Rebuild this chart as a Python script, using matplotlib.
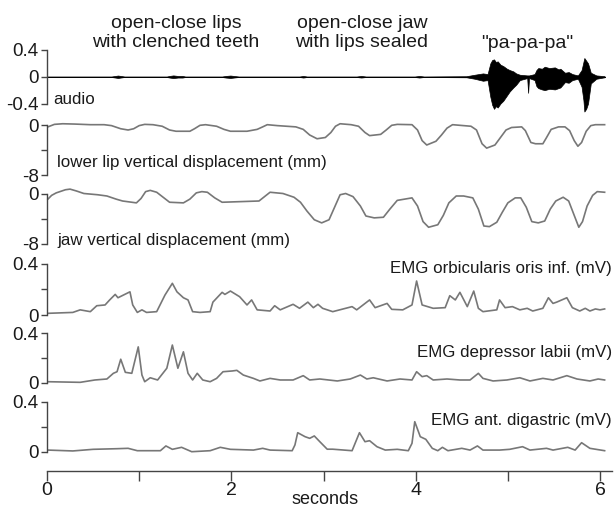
import matplotlib
matplotlib.use("Agg")
import matplotlib.pyplot as plt

plt.rcParams['font.family'] = ['Liberation Sans', 'DejaVu Sans']

# ---------------- data ----------------
# audio envelope (upper / lower)
audio_t  = [0.00, 0.70, 0.74, 0.77, 0.80, 0.84, 1.30, 1.33, 1.37, 1.42, 1.47, 1.50,
            1.90, 1.94, 1.99, 2.04, 2.08, 2.74, 2.78, 2.82, 3.36, 3.41, 3.46,
            3.99, 4.04, 4.09, 4.55, 4.64, 4.73, 4.78, 4.81, 4.83, 4.85, 4.87, 4.89, 4.92,
            4.95, 4.99, 5.02, 5.06, 5.09, 5.13, 5.21, 5.22, 5.23, 5.29, 5.31, 5.33, 5.37,
            5.40, 5.45, 5.51, 5.55, 5.57, 5.62, 5.66, 5.70, 5.76, 5.80, 5.82, 5.83, 5.85,
            5.87, 5.90, 5.96, 6.05]
audio_hi = [0.004, 0.004, 0.012, 0.018, 0.012, 0.004, 0.004, 0.012, 0.02, 0.012, 0.012, 0.004,
            0.004, 0.012, 0.018, 0.01, 0.004, 0.004, 0.012, 0.004, 0.004, 0.012, 0.004,
            0.004, 0.012, 0.004, 0.008, 0.03, 0.05, 0.04, 0.20, 0.25, 0.26, 0.22, 0.23, 0.18,
            0.16, 0.12, 0.10, 0.08, 0.05, 0.03, 0.02, 0.02, 0.02, 0.04, 0.10, 0.13, 0.12,
            0.15, 0.13, 0.14, 0.11, 0.12, 0.06, 0.07, 0.04, 0.02, 0.10, 0.22, 0.28, 0.24,
            0.20, 0.06, 0.02, 0.008]
audio_lo = [-0.004, -0.004, -0.012, -0.018, -0.012, -0.004, -0.004, -0.012, -0.02, -0.012, -0.012, -0.004,
            -0.004, -0.012, -0.018, -0.01, -0.004, -0.004, -0.012, -0.004, -0.004, -0.012, -0.004,
            -0.004, -0.012, -0.004, -0.008, -0.03, -0.06, -0.05, -0.30, -0.42, -0.48, -0.44, -0.46, -0.40,
            -0.36, -0.28, -0.22, -0.16, -0.12, -0.05, -0.02, -0.24, -0.02, -0.05, -0.14, -0.17, -0.19,
            -0.20, -0.18, -0.19, -0.17, -0.16, -0.08, -0.09, -0.05, -0.03, -0.15, -0.35, -0.52, -0.48,
            -0.40, -0.10, -0.03, -0.008]

# lower lip vertical displacement (mm)
lip_t = [0.01, 0.08, 0.17, 0.30, 0.47, 0.62, 0.70, 0.80, 0.88, 0.94, 1.00, 1.06, 1.15,
         1.25, 1.33, 1.40, 1.55, 1.60, 1.66, 1.72, 1.84, 1.92, 1.99, 2.17, 2.28, 2.34,
         2.39, 2.50, 2.70, 2.78, 2.85, 2.93, 3.02, 3.08, 3.13, 3.18, 3.30, 3.38, 3.45,
         3.50, 3.62, 3.68, 3.74, 3.80, 3.96, 4.02, 4.07, 4.12, 4.22, 4.28, 4.34, 4.40,
         4.60, 4.66, 4.72, 4.77, 4.86, 4.93, 4.98, 5.04, 5.15, 5.19, 5.25, 5.30, 5.38,
         5.42, 5.47, 5.55, 5.62, 5.67, 5.72, 5.76, 5.80, 5.85, 5.90, 5.95, 6.05]
lip_v = [-0.3, 0.1, 0.2, 0.15, 0.05, 0.05, -0.1, -0.6, -0.8, -0.6, -0.1, 0.1, 0.05,
         -0.2, -0.8, -1.0, -1.0, -0.6, -0.05, 0.05, -0.2, -0.7, -1.0, -1.0, -0.7, -0.3,
         0.05, -0.1, -0.3, -0.7, -1.6, -2.2, -2.0, -1.2, -0.2, 0.2, 0.05, -0.2, -1.2,
         -1.7, -1.5, -0.8, -0.05, 0.1, 0.05, -0.8, -2.5, -3.2, -2.6, -1.6, -0.5, 0.05,
         -0.2, -0.8, -3.0, -3.7, -3.2, -1.8, -0.8, -0.4, -0.3, -0.9, -2.8, -3.0, -3.0,
         -2.0, -0.7, -0.3, -0.3, -0.9, -2.5, -3.4, -2.8, -1.0, -0.1, 0.05, 0.05]

# jaw vertical displacement (mm)
jaw_t = [0.01, 0.05, 0.10, 0.20, 0.25, 0.32, 0.40, 0.55, 0.65, 0.75, 0.82, 0.97, 1.02,
         1.07, 1.12, 1.19, 1.26, 1.33, 1.48, 1.55, 1.62, 1.68, 1.74, 1.82, 1.90, 2.30,
         2.36, 2.42, 2.56, 2.68, 2.75, 2.82, 2.90, 2.98, 3.06, 3.12, 3.18, 3.24, 3.32,
         3.40, 3.46, 3.55, 3.65, 3.72, 3.80, 3.96, 4.02, 4.08, 4.14, 4.24, 4.30, 4.36,
         4.44, 4.52, 4.62, 4.68, 4.74, 4.80, 4.88, 4.94, 5.00, 5.08, 5.14, 5.20, 5.26,
         5.33, 5.40, 5.46, 5.52, 5.60, 5.66, 5.72, 5.77, 5.81, 5.86, 5.92, 5.97, 6.05]
jaw_v = [-0.9, -0.3, 0.1, 0.6, 0.7, 0.4, 0.0, -0.2, -0.4, -0.9, -1.2, -1.5, -0.8,
         0.3, 0.5, 0.2, -0.6, -1.4, -1.5, -0.9, 0.1, 0.3, 0.2, -0.7, -1.4, -1.2,
         -0.5, 0.2, 0.0, -0.6, -1.4, -2.8, -4.2, -4.7, -4.2, -2.2, -0.2, 0.0, -0.5,
         -2.0, -3.6, -3.9, -3.8, -2.5, -1.1, -0.7, -2.0, -4.5, -5.4, -5.0, -3.5, -1.5,
         -0.4, -0.4, -0.7, -2.5, -5.2, -5.3, -4.6, -3.0, -1.5, -0.7, -0.7, -2.2, -4.5,
         -4.7, -4.4, -2.5, -1.2, -0.6, -1.2, -3.5, -5.4, -4.5, -2.0, -0.3, 0.3, 0.2]

# EMG orbicularis oris inf. (mV)
orb_t = [0.01, 0.28, 0.36, 0.47, 0.54, 0.63, 0.68, 0.74, 0.77, 0.90, 0.93, 0.98, 1.03,
         1.08, 1.19, 1.28, 1.36, 1.41, 1.48, 1.53, 1.58, 1.66, 1.77, 1.80, 1.90, 1.93,
         1.99, 2.09, 2.17, 2.22, 2.28, 2.42, 2.47, 2.53, 2.67, 2.74, 2.83, 2.89, 2.94,
         2.99, 3.10, 3.31, 3.36, 3.50, 3.56, 3.69, 3.74, 3.86, 3.96, 4.01, 4.07, 4.19,
         4.32, 4.37, 4.43, 4.48, 4.56, 4.63, 4.68, 4.73, 4.88, 4.91, 4.97, 5.05, 5.13,
         5.21, 5.27, 5.38, 5.44, 5.49, 5.53, 5.64, 5.70, 5.78, 5.84, 5.89, 5.95, 6.00, 6.05]
orb_v = [0.013, 0.02, 0.04, 0.026, 0.072, 0.078, 0.117, 0.16, 0.134, 0.18, 0.078, 0.02, 0.04,
         0.02, 0.026, 0.155, 0.246, 0.18, 0.134, 0.117, 0.026, 0.02, 0.026, 0.10, 0.176, 0.16,
         0.186, 0.142, 0.078, 0.117, 0.04, 0.031, 0.072, 0.04, 0.083, 0.052, 0.10, 0.057, 0.083,
         0.052, 0.026, 0.065, 0.04, 0.117, 0.057, 0.09, 0.044, 0.04, 0.078, 0.264, 0.078, 0.052,
         0.057, 0.15, 0.117, 0.176, 0.065, 0.186, 0.052, 0.026, 0.04, 0.117, 0.057, 0.065, 0.04,
         0.052, 0.031, 0.052, 0.134, 0.09, 0.10, 0.134, 0.057, 0.031, 0.052, 0.031, 0.047, 0.04, 0.047]

# EMG depressor labii (mV)
dep_t = [0.01, 0.36, 0.52, 0.65, 0.72, 0.76, 0.80, 0.85, 0.92, 0.99, 1.03, 1.06, 1.12,
         1.20, 1.30, 1.36, 1.42, 1.48, 1.53, 1.58, 1.63, 1.69, 1.77, 1.84, 1.91, 2.01,
         2.06, 2.13, 2.24, 2.31, 2.42, 2.53, 2.67, 2.78, 2.85, 2.96, 3.15, 3.29, 3.40,
         3.47, 3.54, 3.69, 3.83, 3.96, 4.01, 4.07, 4.12, 4.19, 4.34, 4.48, 4.59, 4.68,
         4.73, 4.84, 4.99, 5.13, 5.24, 5.38, 5.49, 5.64, 5.75, 5.89, 5.98, 6.05]
dep_v = [0.008, 0.003, 0.022, 0.03, 0.076, 0.089, 0.19, 0.084, 0.076, 0.29, 0.062, 0.008, 0.04,
         0.022, 0.117, 0.305, 0.117, 0.25, 0.076, 0.022, 0.076, 0.022, 0.008, 0.035, 0.089, 0.095,
         0.10, 0.062, 0.035, 0.014, 0.035, 0.022, 0.022, 0.057, 0.022, 0.03, 0.014, 0.03, 0.062,
         0.03, 0.04, 0.014, 0.03, 0.022, 0.089, 0.049, 0.057, 0.022, 0.03, 0.022, 0.022, 0.076,
         0.035, 0.014, 0.022, 0.04, 0.014, 0.035, 0.022, 0.057, 0.03, 0.014, 0.03, 0.022]

# EMG ant. digastric (mV)
dig_t = [0.01, 0.28, 0.50, 0.76, 0.88, 0.98, 1.23, 1.29, 1.36, 1.46, 1.57, 1.77, 1.88,
         1.99, 2.24, 2.34, 2.42, 2.66, 2.69, 2.72, 2.80, 2.85, 2.90, 2.96, 3.04, 3.10,
         3.31, 3.39, 3.45, 3.50, 3.58, 3.67, 3.80, 3.92, 3.96, 3.99, 4.05, 4.11, 4.18,
         4.24, 4.29, 4.35, 4.50, 4.59, 4.67, 4.73, 4.91, 5.02, 5.16, 5.24, 5.42, 5.49,
         5.65, 5.73, 5.80, 5.89, 6.05]
dig_v = [0.013, 0.006, 0.019, 0.024, 0.027, 0.008, 0.008, 0.046, 0.019, 0.035, 0.0, 0.008, 0.035,
         0.019, 0.013, 0.027, 0.013, 0.008, 0.054, 0.152, 0.12, 0.107, 0.126, 0.08, 0.02, 0.02,
         0.008, 0.152, 0.08, 0.088, 0.04, 0.013, 0.019, 0.008, 0.067, 0.24, 0.12, 0.099, 0.027,
         0.008, 0.035, 0.008, 0.027, 0.013, 0.046, 0.013, 0.013, 0.019, 0.04, 0.013, 0.027, 0.013,
         0.035, 0.013, 0.072, 0.027, 0.008]

time_ticks = [0, 1, 2, 3, 4, 5, 6]
time_labels = ['0', '', '2', '', '4', '', '6']

# ---------------- layout ----------------
W, H = 616, 508
fig = plt.figure(figsize=(W / 100, H / 100), dpi=100)
X0, X1 = 47, 612
T_MAX = 6.13
TRACE = '#777777'
SPINE = '#444444'
TXT = '#1a1a1a'
FS = 12.2
TICK_FS = 13.5


def panel(ytop, ybot, ylim, ticks, labels):
    ax = fig.add_axes([X0 / W, 1 - ybot / H, (X1 - X0) / W, (ybot - ytop) / H])
    ax.set_xlim(0, T_MAX)
    ax.set_ylim(*ylim)
    ax.patch.set_visible(False)
    for s in ('top', 'right', 'bottom'):
        ax.spines[s].set_visible(False)
    ax.spines['left'].set_color(SPINE)
    ax.spines['left'].set_linewidth(1.0)
    ax.set_xticks([])
    ax.set_yticks(ticks)
    ax.set_yticklabels(labels)
    ax.tick_params(axis='y', direction='out', length=4, width=1.0, color=SPINE,
                   pad=2, labelsize=TICK_FS, labelcolor=TXT)
    return ax


ax_a = panel(50, 103.5, (-0.4, 0.4), [-0.4, 0, 0.4], ['-0.4', '0', '0.4'])
ax_a.fill_between(audio_t, audio_lo, audio_hi, color='black', lw=0.5, clip_on=False)
ax_a.plot([0, 6.05], [0, 0], color='black', lw=0.7)

ax_l = panel(125, 175, (-8, 0), [-8, -4, 0], ['-8', '', '0'])
ax_l.plot(lip_t, lip_v, color=TRACE, lw=1.2, clip_on=False)

ax_j = panel(193.5, 243.5, (-8, 0), [-8, -4, 0], ['-8', '', '0'])
ax_j.plot(jaw_t, jaw_v, color=TRACE, lw=1.2, clip_on=False)

ax_o = panel(263.5, 315, (0, 0.4), [0, 0.2, 0.4], ['0', '', '0.4'])
ax_o.plot(orb_t, orb_v, color=TRACE, lw=1.2, clip_on=False)

ax_d = panel(333.3, 382.7, (0, 0.4), [0, 0.2, 0.4], ['0', '', '0.4'])
ax_d.plot(dep_t, dep_v, color=TRACE, lw=1.2, clip_on=False)

ax_g = panel(401.7, 451.7, (0, 0.4), [0, 0.2, 0.4], ['0', '', '0.4'])
ax_g.plot(dig_t, dig_v, color=TRACE, lw=1.2, clip_on=False)

# time axis
ax_t = fig.add_axes([X0 / W, 1 - 471 / H, (X1 - X0) / W, 0.0001])
ax_t.set_xlim(0, T_MAX)
ax_t.patch.set_visible(False)
for s in ('top', 'right', 'left'):
    ax_t.spines[s].set_visible(False)
ax_t.spines['bottom'].set_color(SPINE)
ax_t.spines['bottom'].set_linewidth(1.0)
ax_t.set_yticks([])
ax_t.set_xticks(time_ticks)
ax_t.set_xticklabels(time_labels)
ax_t.tick_params(axis='x', direction='out', length=7, width=1.0, color=SPINE,
                 pad=1, labelsize=14, labelcolor=TXT)


def ftext(x, y, s, ha='left', size=FS, **kw):
    fig.text(x / W, 1 - y / H, s, ha=ha, va='center', fontsize=size, color=TXT, **kw)


ftext(325, 499, 'seconds', ha='center', size=13)
ftext(176, 33, 'open-close lips\nwith clenched teeth', ha='center', size=14, linespacing=1.15)
ftext(362, 33, 'open-close jaw\nwith lips sealed', ha='center', size=14, linespacing=1.15)
ftext(527, 44, '"pa-pa-pa"', ha='center', size=14)
ftext(53, 99, 'audio')
ftext(57, 163, 'lower lip vertical displacement (mm)')
ftext(57, 240, 'jaw vertical displacement (mm)')
ftext(612, 268, 'EMG orbicularis oris inf. (mV)', ha='right')
ftext(612, 352, 'EMG depressor labii (mV)', ha='right')
ftext(612, 420, 'EMG ant. digastric (mV)', ha='right')

fig.savefig('out.png', dpi=100)
